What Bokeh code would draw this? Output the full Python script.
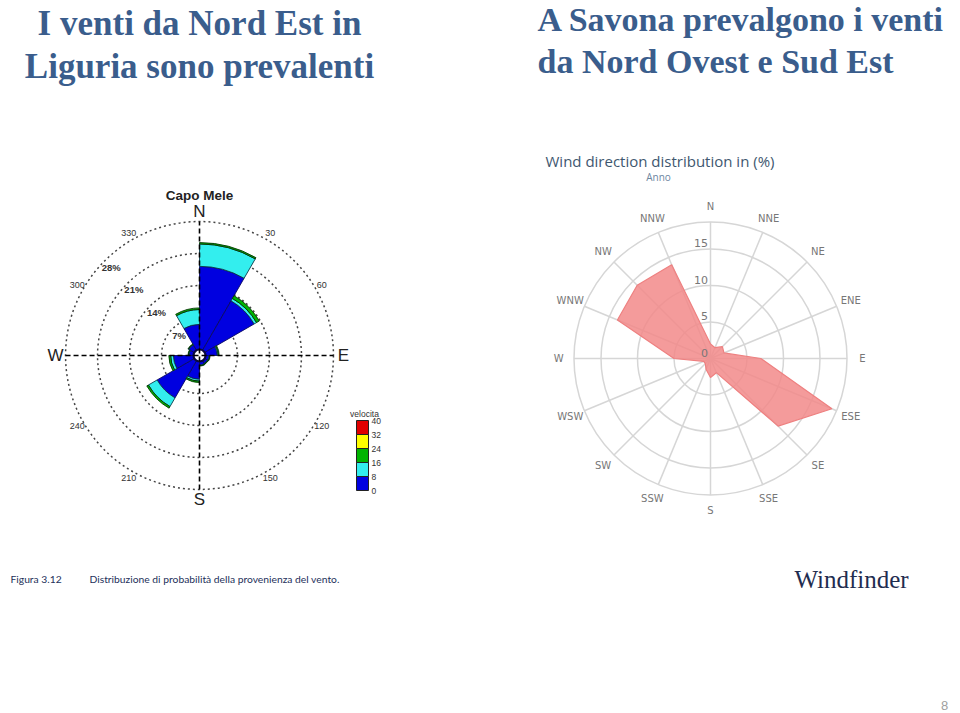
import math
from bokeh.plotting import figure
from bokeh.models import Range1d
from bokeh.core.properties import value
from bokeh.embed import file_html
from bokeh.resources import INLINE

# ---------------- data ----------------
heading_left = ["I venti da Nord Est in", "Liguria sono prevalenti"]
heading_right = ["A Savona prevalgono i venti", "da Nord Ovest e Sud Est"]

# Capo Mele wind rose: 30-degree sectors, % frequency per speed class
cm_title = "Capo Mele"
cm_sector_start = [0, 30, 60, 90, 120, 150, 180, 210, 240, 270, 300, 330]
cm_speed_0_8 = [18.2, 12.5, 2.6, 0.8, 0.7, 0.8, 3.9, 9.4, 4.4, 1.0, 1.4, 5.5]
cm_speed_8_16 = [4.9, 0.6, 0.2, 0.1, 0.1, 0.1, 0.4, 2.2, 0.6, 0.1, 0.1, 3.25]
cm_speed_16_24 = [0.3, 0.7, 0.2, 0.1, 0.1, 0.1, 0.3, 0.4, 0.4, 0.1, 0.1, 0.35]
cm_speed_24_32 = [0, 0, 0, 0, 0, 0, 0, 0, 0, 0, 0, 0]
cm_speed_32_40 = [0, 0, 0, 0, 0, 0, 0, 0, 0, 0, 0, 0]
cm_speed_edges = ["0", "8", "16", "24", "32", "40"]
cm_speed_colors = ["#0000e0", "#33eeee", "#00b400", "#ffff00", "#e00000"]
cm_rings = [7, 14, 21, 28]
cm_ring_labels = ["7%", "14%", "21%", "28%"]
cm_angle_ticks = [30, 60, 120, 150, 210, 240, 300, 330]
cm_cardinals = ["N", "E", "S", "W"]
cm_cardinal_angles = [0, 90, 180, 270]
cm_legend_title = "velocita"
cm_caption_num = "Figura 3.12"
cm_caption = "Distribuzione di probabilità della provenienza del vento."

# Savona (Windfinder) wind direction distribution in %
sv_title = "Wind direction distribution in (%)"
sv_subtitle = "Anno"
sv_directions = ["N", "NNE", "NE", "ENE", "E", "ESE", "SE", "SSE",
                 "S", "SSW", "SW", "WSW", "W", "WNW", "NW", "NNW"]
sv_angles = [0, 22.5, 45, 67.5, 90, 112.5, 135, 157.5,
             180, 202.5, 225, 247.5, 270, 292.5, 315, 337.5]
sv_freq = [2.0, 1.6, 2.3, 2.0, 6.9, 18.0, 13.1, 2.1,
           2.6, 1.6, 1.0, 1.0, 5.0, 13.8, 14.2, 13.9]
sv_rings = [5, 10, 15]
sv_max = 18.7
sv_source = "Windfinder"
page_number = "8"

# ---------------- layout / styles ----------------
W, H = 960, 713
CM_CX, CM_CY, CM_K, CM_HOLE_PX = 199, 713 - 355, 4.57, 6.0
SV_CX, SV_CY, SV_K = 710, 713 - 358, 7.3
HEAD_COLOR = "#3a5d8c"
SERIF = value("Liberation Serif")
SANS = value("Liberation Sans")
BASE_SHIFT = 0.35  # fraction of font size to align alphabetic baseline

p = figure(width=W, height=H, x_range=Range1d(0, W), y_range=Range1d(0, H),
           x_axis_type=None, y_axis_type=None, min_border=0,
           toolbar_location=None, output_backend="svg",
           outline_line_color=None, background_fill_color="white")
p.grid.visible = False

p.extra_x_ranges = {
    "lx": Range1d(-CM_CX / CM_K, (W - CM_CX) / CM_K),
    "rx": Range1d(-SV_CX / SV_K, (W - SV_CX) / SV_K),
}
p.extra_y_ranges = {
    "ly": Range1d(-CM_CY / CM_K, (H - CM_CY) / CM_K),
    "ry": Range1d(-SV_CY / SV_K, (H - SV_CY) / SV_K),
}
L = dict(x_range_name="lx", y_range_name="ly")
R = dict(x_range_name="rx", y_range_name="ry")


def polar(r, deg):
    a = math.radians(deg)
    return r * math.sin(a), r * math.cos(a)


# ---------------- headings ----------------
HS = 35
for txt, base in zip(heading_left, [35, 78]):
    p.text(x=[199], y=[H - base + BASE_SHIFT * HS], text=[txt], text_font=SERIF,
           text_font_style="bold", text_font_size=f"{HS}px", text_color=HEAD_COLOR,
           text_align="center", text_baseline="alphabetic")
HR = 34
for txt, base in zip(heading_right, [31, 73]):
    p.text(x=[537], y=[H - base + BASE_SHIFT * HR], text=[txt], text_font=SERIF,
           text_font_style="bold", text_font_size=f"{HR}px", text_color=HEAD_COLOR,
           text_align="left", text_baseline="alphabetic")

# ---------------- Capo Mele rose ----------------
hole = CM_HOLE_PX / CM_K
R_OUT = hole + cm_rings[-1]

# dotted rings
p.circle(x=[0] * len(cm_rings), y=[0] * len(cm_rings),
         radius=[hole + r for r in cm_rings], fill_color=None,
         line_color="#444444", line_width=1.5, line_dash="2 3", **L)

# stacked sectors
classes = [cm_speed_0_8, cm_speed_8_16, cm_speed_16_24, cm_speed_24_32, cm_speed_32_40]
edge_cols = ["#0a0a60", "#0a3a4a", "#063306", "#555500", "#550000"]
cum = [0.0] * len(cm_sector_start)
for ci, vals in enumerate(classes):
    xs, ys, ir, orr, sa, ea = [], [], [], [], [], []
    for si, s in enumerate(cm_sector_start):
        v = vals[si]
        if v > 0:
            xs.append(0); ys.append(0)
            ir.append(hole + cum[si]); orr.append(hole + cum[si] + v)
            sa.append(math.radians(90 - (s + 30))); ea.append(math.radians(90 - s))
        cum[si] += v
    if xs:
        p.annular_wedge(x=xs, y=ys, inner_radius=ir, outer_radius=orr,
                        start_angle=sa, end_angle=ea, fill_color=cm_speed_colors[ci],
                        line_color=edge_cols[ci], line_width=0.9, **L)

# center hole
p.circle(x=[0], y=[0], radius=[hole], fill_color="white", line_color="#0a0a40",
         line_width=2.2, **L)

# dashed cross
p.segment(x0=[-R_OUT, 0], y0=[0, -R_OUT], x1=[R_OUT, 0], y1=[0, R_OUT],
          line_color="black", line_width=1.6, line_dash="5 3", **L)

# cardinal labels
for lab, ang in zip(cm_cardinals, cm_cardinal_angles):
    x, y = polar(hole + 30.2, ang)
    p.text(x=[x], y=[y], text=[lab], text_font=SANS, text_font_size="17px",
           text_color="#222222", text_align="center", text_baseline="middle", **L)

# angle tick labels
for ang in cm_angle_ticks:
    x, y = polar(hole + 29.6, ang)
    p.text(x=[x], y=[y], text=[str(ang)], text_font=SANS, text_font_size="9px",
           text_color="#333333", text_align="center", text_baseline="middle", **L)

# ring % labels
for r, lab in zip(cm_rings, cm_ring_labels):
    x, y = polar(hole + r - 2.0, 315)
    p.text(x=[x], y=[y], text=[lab], text_font=SANS, text_font_size="9.5px",
           text_font_style="bold", text_color="#333333", text_align="center",
           text_baseline="middle", **L)

# title
p.text(x=[199], y=[H - 195], text=[cm_title], text_font=SANS, text_font_style="bold",
       text_font_size="13.5px", text_color="#222222", text_align="center",
       text_baseline="middle")

# speed legend
box_top, box_h = 420, 14
n_cls = len(cm_speed_colors)
p.quad(left=[356] * n_cls, right=[368] * n_cls,
       top=[H - (box_top + (n_cls - 1 - i) * box_h) for i in range(n_cls)],
       bottom=[H - (box_top + (n_cls - i) * box_h) for i in range(n_cls)],
       fill_color=cm_speed_colors, line_color="#222222", line_width=1)
for i, lab in enumerate(cm_speed_edges):
    p.text(x=[371], y=[H - (box_top + (n_cls - i) * box_h)], text=[lab], text_font=SANS,
           text_font_size="8.5px", text_color="#333333", text_align="left",
           text_baseline="middle")
p.text(x=[364], y=[H - 413], text=[cm_legend_title], text_font=SANS, text_font_size="8.5px",
       text_color="#333333", text_align="center", text_baseline="middle")

# caption
p.text(x=[10], y=[H - 578], text=[cm_caption_num], text_font=value("Lato"),
       text_font_size="10.3px", text_color="#24305a", text_align="left", text_baseline="middle")
p.text(x=[89], y=[H - 578], text=[cm_caption], text_font=value("Lato"),
       text_font_size="10.3px", text_color="#24305a", text_align="left", text_baseline="middle")

# ---------------- Savona rose ----------------
GRID = "#d6d6d6"
sx0, sy0, sx1, sy1 = [], [], [], []
for ang in sv_angles:
    x, y = polar(sv_max, ang)
    sx0.append(0); sy0.append(0); sx1.append(x); sy1.append(y)
p.segment(x0=sx0, y0=sy0, x1=sx1, y1=sy1, line_color=GRID, line_width=1.5, **R)
p.circle(x=[0] * 4, y=[0] * 4, radius=sv_rings + [sv_max], fill_color=None,
         line_color=GRID, line_width=1.5, **R)

px, py = [], []
for v, ang in zip(sv_freq, sv_angles):
    x, y = polar(v, ang)
    px.append(x); py.append(y)
p.patch(x=px, y=py, fill_color="#f28a8a", fill_alpha=0.85, line_color="#ee8080",
        line_width=1.2, **R)

# ring labels
for v in [0] + sv_rings:
    p.text(x=[-0.35], y=[v + 0.8], text=[str(v)], text_font=value("DejaVu Sans"),
           text_font_size="11px", text_color="#777777", text_align="right",
           text_baseline="middle", **R)

# direction labels
for lab, ang in zip(sv_directions, sv_angles):
    x, y = polar(sv_max + 2.1, ang)
    p.text(x=[x], y=[y], text=[lab], text_font=value("DejaVu Sans"),
           text_font_size="10px", text_color="#777777", text_align="center",
           text_baseline="middle", **R)

p.text(x=[659.5], y=[H - 160.5], text=[sv_title], text_font=value("Open Sans"),
       text_font_size="15px", text_color="#3E576F", text_align="center",
       text_baseline="middle")
p.text(x=[658], y=[H - 176.5], text=[sv_subtitle], text_font=value("Open Sans"),
       text_font_size="10px", text_color="#6D869F", text_align="center",
       text_baseline="middle")

WS = 25
p.text(x=[851], y=[H - 588 + BASE_SHIFT * WS], text=[sv_source], text_font=SERIF,
       text_font_size=f"{WS}px", text_color="#1f2d50", text_align="center",
       text_baseline="alphabetic")

p.text(x=[944], y=[H - 705], text=[page_number], text_font=SANS, text_font_size="13px",
       text_color="#a0a0a0", text_align="center", text_baseline="middle")

open("out.html", "w").write(file_html(p, INLINE))
